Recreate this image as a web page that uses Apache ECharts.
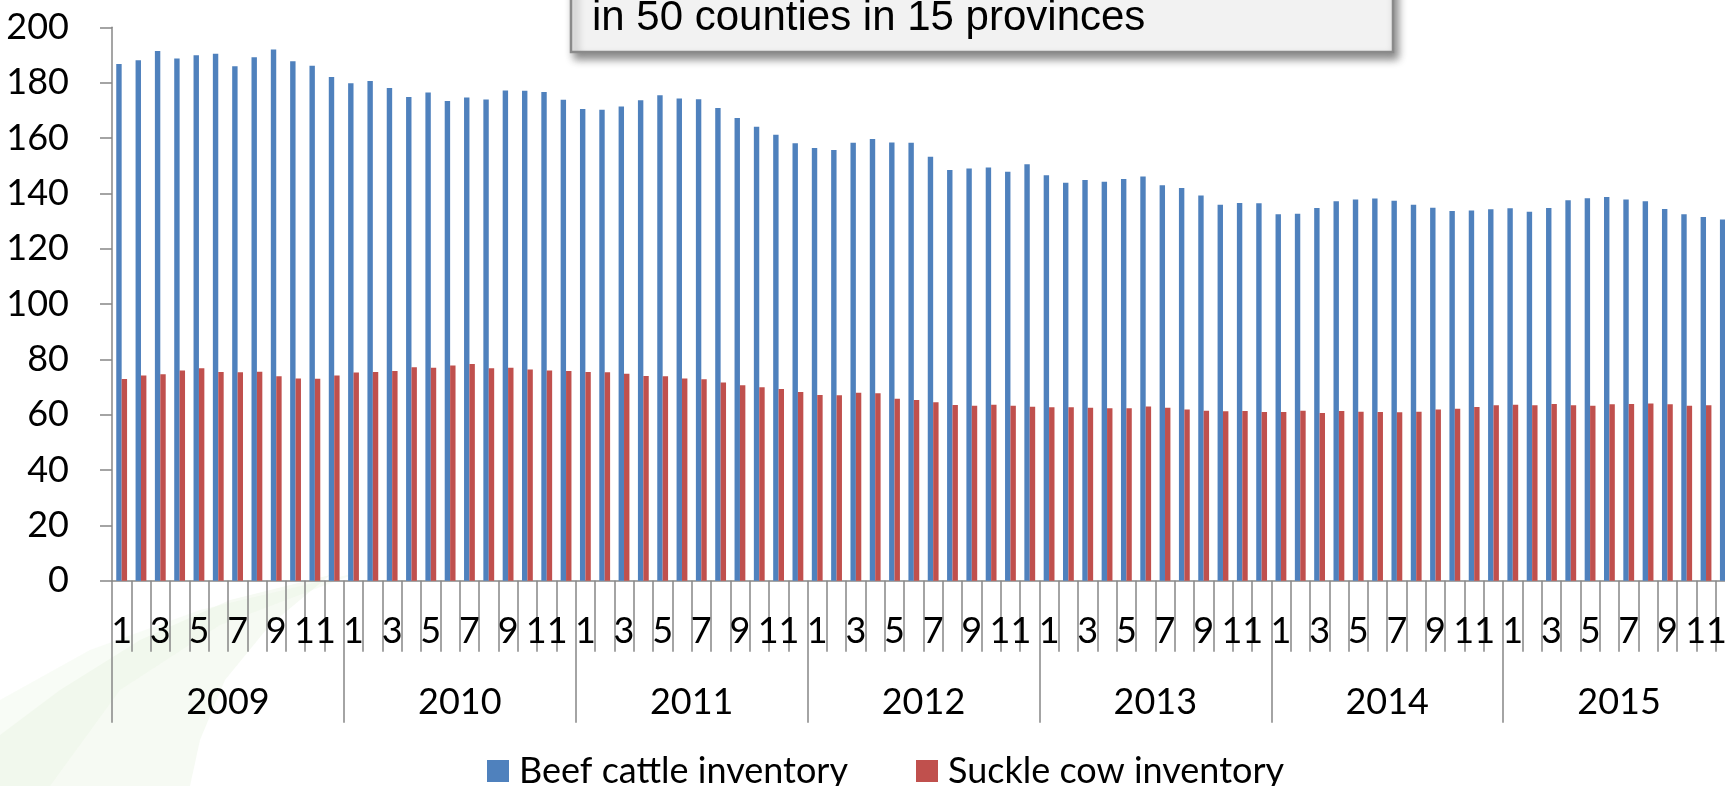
<!DOCTYPE html>
<html><head><meta charset="utf-8">
<script src="https://cdn.jsdelivr.net/npm/echarts@6/dist/echarts.min.js"></script>
<style>html,body{margin:0;padding:0;overflow:hidden;background:#fff}#c{width:1760px;height:786px}</style>
</head><body><div id="c"></div><script>
const years = ['2009','2010','2011','2012','2013','2014','2015'];
const monthNames = ['1','2','3','4','5','6','7','8','9','10','11','12'];
const seriesNames = ['Beef cattle inventory','Suckle cow inventory'];
const yTicks = {min: 0, max: 200, interval: 20};
const beef = [
  186.7,188.1,191.4,188.7,189.9,190.4,185.9,189.2,192.0,187.7,186.1,182.0,
  179.8,180.6,178.1,174.8,176.4,173.4,174.6,173.9,177.2,177.1,176.6,173.8,
  170.5,170.2,171.4,173.6,175.4,174.3,174.0,170.8,167.2,164.1,161.2,158.1,
  156.4,155.7,158.3,159.6,158.4,158.3,153.2,148.4,149.0,149.3,147.8,150.5,
  146.5,143.8,144.8,144.2,145.2,146.1,142.9,141.9,139.2,135.9,136.5,136.4,
  132.4,132.6,134.7,137.1,137.8,138.1,137.3,135.9,134.8,133.6,133.8,134.2,
  134.6,133.3,134.7,137.5,138.2,138.7,137.8,137.1,134.3,132.4,131.4,130.5
];
const suckle = [
  72.9,74.2,74.6,76.0,76.8,75.4,75.3,75.5,73.9,73.1,73.0,74.2,
  75.2,75.4,75.8,77.1,77.0,77.8,78.3,76.8,77.0,76.3,76.0,75.8,
  75.4,75.3,74.8,74.0,73.9,73.1,72.8,71.6,70.6,69.9,69.3,68.2,
  67.1,67.0,67.9,67.7,65.8,65.3,64.5,63.5,63.2,63.6,63.2,62.9,
  62.7,62.7,62.5,62.3,62.3,63.0,62.5,61.9,61.4,61.2,61.3,61.0,
  61.0,61.4,60.6,61.3,61.1,61.0,60.9,61.1,61.9,62.1,62.8,63.4,
  63.6,63.4,63.9,63.4,63.2,63.8,63.9,64.0,63.8,63.2,63.4,63.0
];
const titleLine = 'in 50 counties in 15 provinces';

const categories = [];
years.forEach(y => monthNames.forEach(m => categories.push(y + '-' + m)));

const axisGray = '#878787';
const font = 'Lato';
const fs = 36;
const chart = echarts.init(document.getElementById('c'));
chart.setOption({
  animation: false,
  backgroundColor: '#fff',
  grid: {left: 112, right: 25, top: 27.3, bottom: 205.3, outerBoundsMode: 'none'},
  legend: {
    data: seriesNames, left: 487, top: 753, padding: 0,
    icon: 'rect', itemWidth: 22, itemHeight: 22, itemGap: 68,
    textStyle: {fontFamily: font, fontSize: fs, color: '#000', padding: [0,0,0,5]}
  },
  xAxis: [
    {
      type: 'category', data: categories, position: 'bottom',
      axisLine: {show: true, lineStyle: {color: axisGray, width: 1.5}},
      axisTick: {show: true, interval: 0, length: 71, lineStyle: {color: axisGray, width: 1.5}},
      axisLabel: {show: true, interval: 1, formatter: v => v.split('-')[1], margin: 33,
        fontFamily: font, fontSize: fs, color: '#000'},
      splitLine: {show: false}
    },
    {
      type: 'category', data: years, position: 'bottom',
      axisLine: {show: false},
      axisTick: {show: true, interval: 0, length: 142, lineStyle: {color: axisGray, width: 1.5}},
      axisLabel: {show: true, interval: 0, margin: 104, fontFamily: font, fontSize: fs, color: '#000'},
      splitLine: {show: false}
    }
  ],
  yAxis: {
    type: 'value', min: yTicks.min, max: yTicks.max, interval: yTicks.interval,
    axisLine: {show: true, lineStyle: {color: axisGray, width: 1.5}},
    axisTick: {show: true, length: 12, lineStyle: {color: axisGray, width: 1.5}},
    axisLabel: {show: true, margin: 43, fontFamily: font, fontSize: fs, color: '#000'},
    splitLine: {show: false}
  },
  series: [
    {name: seriesNames[0], type: 'bar', xAxisIndex: 0, data: beef,
     barWidth: '28%', barGap: '0%', itemStyle: {color: '#4f81bd'}},
    {name: seriesNames[1], type: 'bar', xAxisIndex: 0, data: suckle,
     barWidth: '28%', barGap: '0%', itemStyle: {color: '#c0504d'}}
  ],
  graphic: [
    {type: 'polygon', z: -10, silent: true,
     shape: {points: [[0,786],[0,735],[60,690],[140,640],[230,600],[330,575],[270,625],[225,680],[200,740],[190,786]]},
     style: {fill: 'rgba(225,240,215,0.3)'}},
    {type: 'polygon', z: -10, silent: true,
     shape: {points: [[0,786],[0,700],[90,650],[200,610],[360,572],[220,625],[120,690],[50,786]]},
     style: {fill: 'rgba(228,242,220,0.25)'}},
    {type: 'rect', z: 50, shape: {x: 571, y: -60, width: 822, height: 112},
     style: {fill: '#f2f2f2', stroke: '#8a8a8a', lineWidth: 2.5,
       shadowBlur: 8, shadowOffsetX: 4, shadowOffsetY: 6, shadowColor: 'rgba(0,0,0,0.45)'}},
    {type: 'text', z: 51, x: 592, y: 18,
     style: {text: titleLine, fontFamily: '"Liberation Sans", Arial, sans-serif', fontSize: 42,
       fill: '#000', verticalAlign: 'middle', align: 'left'}}
  ]
});
</script></body></html>
